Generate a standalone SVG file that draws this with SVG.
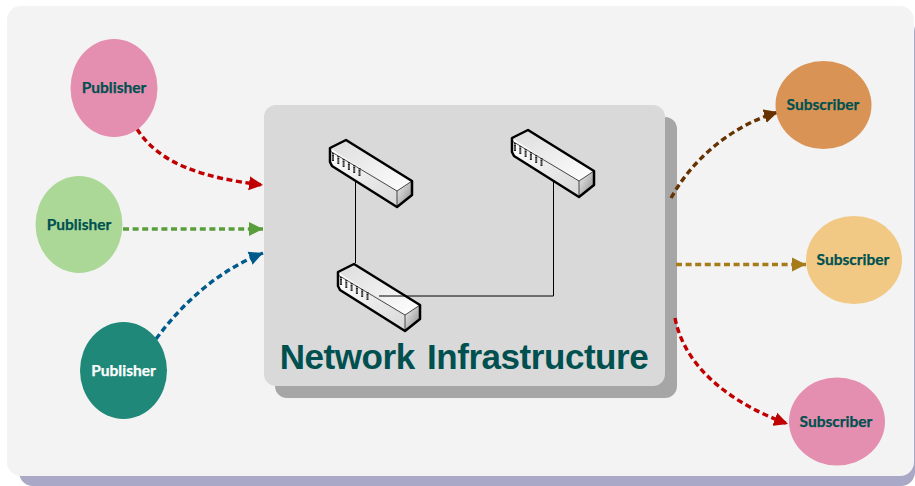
<svg xmlns="http://www.w3.org/2000/svg" width="915" height="486" viewBox="0 0 915 486">
<style>
.lbl{font-family:"Lato","Liberation Sans",sans-serif;font-weight:700;font-size:15.500px;text-anchor:middle;stroke-width:.25;paint-order:stroke}
.dash{fill:none;stroke-width:3.400;stroke-dasharray:6 3.600;stroke-linecap:butt}
.wire{fill:none;stroke:#000;stroke-width:1}
.sw-o{fill:none;stroke:#000;stroke-width:2.500;stroke-linejoin:round}
.sw-l{fill:none;stroke:#222;stroke-width:.8}
</style>
<defs>
<linearGradient id="swTop" x1="0" y1="0" x2="1" y2="1"><stop offset="0" stop-color="#dcdcdc"/><stop offset="1" stop-color="#ffffff"/></linearGradient>
<linearGradient id="swFront" x1="0" y1="0" x2="1" y2="1"><stop offset="0" stop-color="#ffffff"/><stop offset="1" stop-color="#d8d8d8"/></linearGradient>
<linearGradient id="swSide" x1="0" y1="0" x2="1" y2="1"><stop offset="0" stop-color="#f4f4f4"/><stop offset="1" stop-color="#858585"/></linearGradient>
<marker id="mRed" markerUnits="userSpaceOnUse" markerWidth="15" markerHeight="15" refX="14" refY="7.500" orient="auto"><path d="M0 .5L14 7.500L0 14.500Z" fill="#c00000"/></marker>
<marker id="mGreen" markerUnits="userSpaceOnUse" markerWidth="15" markerHeight="15" refX="14" refY="7.500" orient="auto"><path d="M0 .5L14 7.500L0 14.500Z" fill="#5a9e3c"/></marker>
<marker id="mBlue" markerUnits="userSpaceOnUse" markerWidth="15" markerHeight="15" refX="14" refY="7.500" orient="auto"><path d="M0 .5L14 7.500L0 14.500Z" fill="#005a8a"/></marker>
<marker id="mBrown" markerUnits="userSpaceOnUse" markerWidth="15" markerHeight="15" refX="14" refY="7.500" orient="auto"><path d="M0 .5L14 7.500L0 14.500Z" fill="#663300"/></marker>
<marker id="mOchre" markerUnits="userSpaceOnUse" markerWidth="15" markerHeight="15" refX="14" refY="7.500" orient="auto"><path d="M0 .5L14 7.500L0 14.500Z" fill="#a67c1a"/></marker>
<g id="switch">
<path d="M0 0L16-8L82 33L67 43Z" fill="url(#swTop)"/>
<path d="M0 0L67 43L67 59L1 17L0 14Z" fill="url(#swFront)"/>
<path d="M67 43L82 33L82 47L67 59Z" fill="url(#swSide)"/>
<path d="M0 3L67 43M67 43L82 33M67 43V59" class="sw-l"/>
<path d="M0 0L16-8L82 33L82 47L67 59L2 18L0 14Z" class="sw-o"/>
<path d="M3 5v8.500M8.300 8v8.500M13.600 11v8.500M18.900 14v8.500M24.200 17v8.500M29.500 20v8.500" fill="none" stroke="#222" stroke-width="2" stroke-dasharray="1.600 .5"/>
</g>
</defs>
<rect width="915" height="486" fill="#fff"/>
<g id="panel">
<rect x="19" y="18" width="896" height="468" rx="14" fill="#a9a8c6"/>
<rect x="7" y="6" width="907" height="470" rx="14" fill="#f3f3f3"/>
</g>
<g id="infrastructure">
<rect x="275" y="117" width="402" height="281" rx="12" fill="#a6a6a6"/>
<rect x="264" y="105" width="401" height="281" rx="12" fill="#d9d9d9"/>
<text x="464" y="369" font-family="Liberation Sans,Arial,sans-serif" font-weight="700" font-size="35" letter-spacing="-.45" word-spacing="3" text-anchor="middle" fill="#005050">Network Infrastructure</text>
</g>
<g id="connectors">
<path class="wire" d="M355.500 181V263"/>
<path class="wire" d="M553.500 181V296"/>
<path class="dash" stroke="#c00000" marker-end="url(#mRed)" d="M137 129C160 165 205 178 263 185"/>
<path class="dash" stroke="#5a9e3c" marker-end="url(#mGreen)" d="M123 229H263"/>
<path class="dash" stroke="#005a8a" marker-end="url(#mBlue)" d="M156 339C185 300 220 270 263 253"/>
<path class="dash" stroke="#663300" marker-end="url(#mBrown)" d="M671 198C695 155 735 125 778 112"/>
<path class="dash" stroke="#a67c1a" marker-end="url(#mOchre)" d="M676 264.500H806"/>
<path class="dash" stroke="#c00000" marker-end="url(#mRed)" d="M675 318C685 370 735 405 788 424"/>
</g>
<g id="switch-1"><use href="#switch" x="330" y="148"/></g>
<g id="switch-2"><use href="#switch" x="512" y="138"/></g>
<g id="switch-3"><use href="#switch" x="338" y="272"/></g>
<path class="wire" d="M379 296H553.500" id="link-h"/>
<g id="pub-1"><ellipse cx="114" cy="88" rx="43.500" ry="49" fill="#e48fb0"/><text class="lbl" x="114" y="93" fill="#005050" stroke="#005050">Publisher</text></g>
<g id="pub-2"><ellipse cx="79" cy="224.500" rx="43.500" ry="48.500" fill="#abd896"/><text class="lbl" x="79" y="229.500" fill="#005050" stroke="#005050">Publisher</text></g>
<g id="pub-3"><ellipse cx="123.500" cy="370.500" rx="43.500" ry="48.500" fill="#1f8878"/><text class="lbl" x="123.500" y="375.500" fill="#ffffff" stroke="#ffffff">Publisher</text></g>
<g id="sub-1"><ellipse cx="823.500" cy="105" rx="48" ry="44" fill="#d99455"/><text class="lbl" x="823" y="110" fill="#005050" stroke="#005050">Subscriber</text></g>
<g id="sub-2"><ellipse cx="854" cy="260" rx="48" ry="44" fill="#f1c985"/><text class="lbl" x="853" y="265" fill="#005050" stroke="#005050">Subscriber</text></g>
<g id="sub-3"><ellipse cx="837" cy="421.500" rx="48" ry="44" fill="#e48fb0"/><text class="lbl" x="836" y="427" fill="#005050" stroke="#005050">Subscriber</text></g>
</svg>
